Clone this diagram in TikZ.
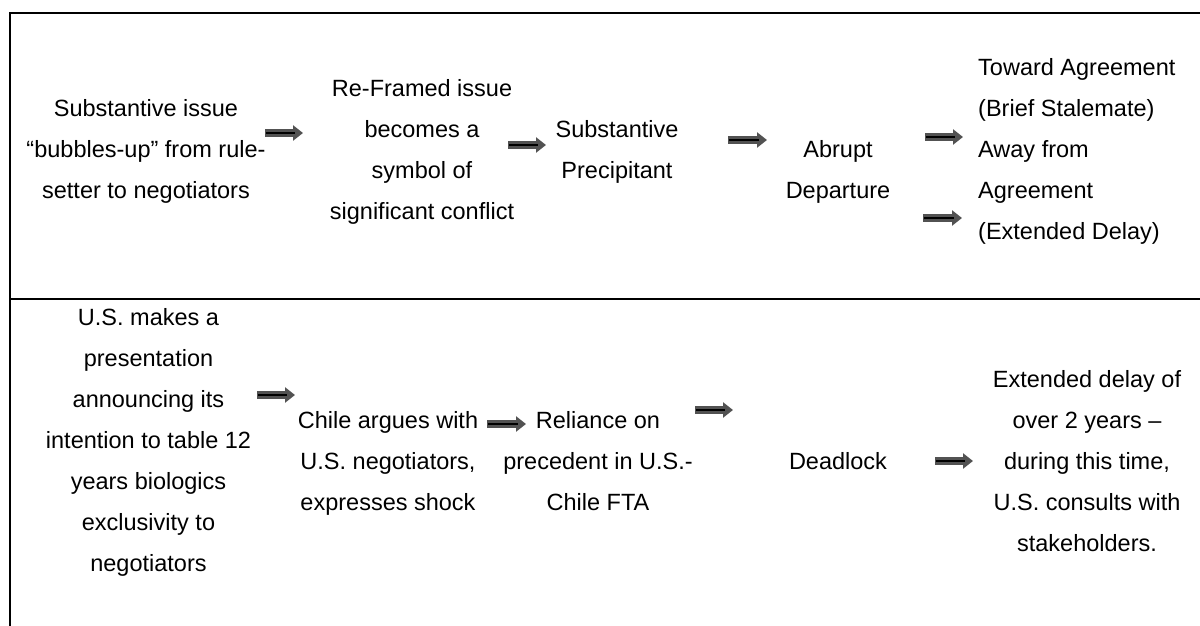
\documentclass[tikz,border=0pt]{standalone}
\usepackage{fontspec}
\setmainfont{Liberation Sans}
\usetikzlibrary{arrows.meta}
\begin{document}
\begin{tikzpicture}[x=1pt,y=-1pt,
  txt/.style={font=\fontsize{23.5}{28}\selectfont, inner sep=0pt, anchor=base},
  txtl/.style={txt, anchor=base west},
  blk/.style={line width=7.5pt, draw=black!68, -{Triangle[length=10pt,width=15pt]}},
  blkcore/.style={line width=2.5pt, draw=black, shorten >=8pt, shorten <=1pt},
  frame/.style={line width=2.4pt, draw=black}]
\useasboundingbox (0,0) rectangle (1200,626);
% frame
\coordinate (tl) at (10,13); \coordinate (tr) at (1200,13);
\coordinate (bl) at (10,626);
\coordinate (ml) at (10,299); \coordinate (mr) at (1200,299);
\draw[frame] (tr) -- (tl) -- (bl);
\draw[frame] (ml) -- (mr);
% row 1, col 1
\node[txt] (r1c1a) at (146,116.4) {Substantive issue};
\node[txt] (r1c1b) at (146,157.4) {“bubbles-up” from rule-};
\node[txt] (r1c1c) at (146,198.4) {setter to negotiators};
% row 1, col 2
\node[txt] (r1c2a) at (422,96) {Re-Framed issue};
\node[txt] (r1c2b) at (422,137) {becomes a};
\node[txt] (r1c2c) at (422,178) {symbol of};
\node[txt] (r1c2d) at (422,219) {significant conflict};
% row 1, col 3
\node[txt] (r1c3a) at (617,137) {Substantive};
\node[txt] (r1c3b) at (617,178) {Precipitant};
% row 1, col 4
\node[txt] (r1c4a) at (838,157.4) {Abrupt};
\node[txt] (r1c4b) at (838,198.4) {Departure};
% row 1, col 5
\node[txtl] (r1c5a) at (978,75.4) {Toward Agreement};
\node[txtl] (r1c5b) at (978,116.4) {(Brief Stalemate)};
\node[txtl] (r1c5c) at (978,157.4) {Away from};
\node[txtl] (r1c5d) at (978,198.4) {Agreement};
\node[txtl] (r1c5e) at (978,239.4) {(Extended Delay)};
% row 2, col 1
\node[txt] (r2c1a) at (148.5,325.4) {U.S. makes a};
\node[txt] (r2c1b) at (148.5,366.4) {presentation};
\node[txt] (r2c1c) at (148.5,407.4) {announcing its};
\node[txt] (r2c1d) at (148.5,448.4) {intention to table 12};
\node[txt] (r2c1e) at (148.5,489.4) {years biologics};
\node[txt] (r2c1f) at (148.5,530.4) {exclusivity to};
\node[txt] (r2c1g) at (148.5,571.4) {negotiators};
% row 2, col 2
\node[txt] (r2c2a) at (388,428.4) {Chile argues with};
\node[txt] (r2c2b) at (388,469.4) {U.S. negotiators,};
\node[txt] (r2c2c) at (388,510.4) {expresses shock};
% row 2, col 3
\node[txt] (r2c3a) at (598,428.4) {Reliance on};
\node[txt] (r2c3b) at (598,469.4) {precedent in U.S.-};
\node[txt] (r2c3c) at (598,510.4) {Chile FTA};
% row 2, col 4
\node[txt] (r2c4a) at (838,469.4) {Deadlock};
% row 2, col 5
\node[txt] (r2c5a) at (1087,387.4) {Extended delay of};
\node[txt] (r2c5b) at (1087,428.4) {over 2 years –};
\node[txt] (r2c5c) at (1087,469.4) {during this time,};
\node[txt] (r2c5d) at (1087,510.4) {U.S. consults with};
\node[txt] (r2c5e) at (1087,551.4) {stakeholders.};
% arrows row 1
\coordinate (a1s) at (265,133); \coordinate (a1e) at (303,133);
\coordinate (a2s) at (508,145); \coordinate (a2e) at (546,145);
\coordinate (a3s) at (728,140); \coordinate (a3e) at (767,140);
\coordinate (a4s) at (925,137); \coordinate (a4e) at (963,137);
\coordinate (a5s) at (923,218); \coordinate (a5e) at (962,218);
% arrows row 2
\coordinate (a6s) at (257,395); \coordinate (a6e) at (295,395);
\coordinate (a7s) at (487,424); \coordinate (a7e) at (526,424);
\coordinate (a8s) at (695,410); \coordinate (a8e) at (733,410);
\coordinate (a9s) at (935,461); \coordinate (a9e) at (973,461);
\foreach \i in {1,...,9} {
  \draw[blk] (a\i s) -- (a\i e);
  \draw[blkcore] (a\i s) -- (a\i e);
}
\end{tikzpicture}
\end{document}
